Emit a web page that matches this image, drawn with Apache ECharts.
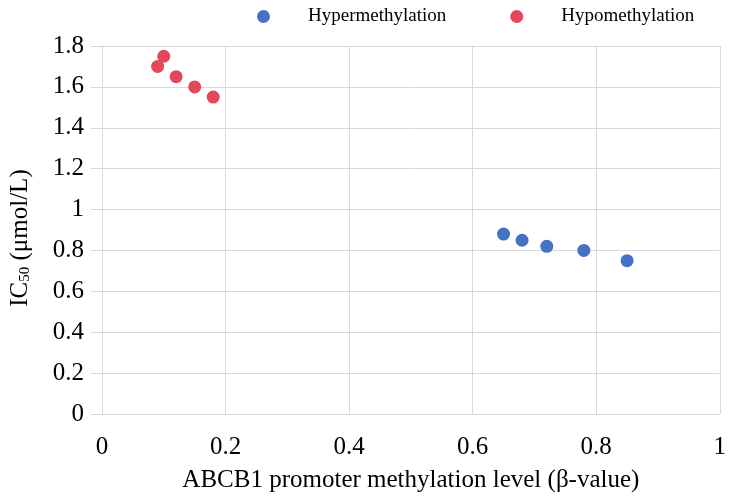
<!DOCTYPE html>
<html>
<head>
<meta charset="utf-8">
<script src="https://cdn.jsdelivr.net/npm/echarts@6/dist/echarts.min.js"></script>
<style>html,body{margin:0;padding:0;background:#fff;}#c{width:729px;height:503px;}</style>
</head>
<body>
<div id="c"></div>
<script>
const seriesNames = ['Hypermethylation', 'Hypomethylation'];
const hyperX = [0.65, 0.68, 0.72, 0.78, 0.85];
const hyperY = [0.88, 0.85, 0.82, 0.80, 0.75];
const hypoX = [0.09, 0.10, 0.12, 0.15, 0.18];
const hypoY = [1.70, 1.75, 1.65, 1.60, 1.55];
const xAxisTitle = 'ABCB1 promoter methylation level (β-value)';
const font = '"Liberation Serif", "Times New Roman", serif';

const zip = (xs, ys) => xs.map((x, i) => [x, ys[i]]);
const chart = echarts.init(document.getElementById('c'));
chart.setOption({
  animation: false,
  backgroundColor: '#ffffff',
  textStyle: { fontFamily: font },
  legend: {
    data: seriesNames,
    left: 252, top: 2,
    itemWidth: 13, itemHeight: 13, itemGap: 64,
    icon: 'circle',
    textStyle: { fontFamily: font, fontSize: 19, color: '#000', padding: [0, 0, 0, 33] }
  },
  grid: { left: 101, right: 8, top: 46, bottom: 89, containLabel: false },
  xAxis: {
    type: 'value', min: 0, max: 1, interval: 0.2,
    name: xAxisTitle, nameLocation: 'middle', nameGap: 54,
    nameTextStyle: { fontFamily: font, fontSize: 25, color: '#000' },
    axisLine: { show: true, lineStyle: { color: '#d9d9d9', width: 1 } },
    axisTick: { show: false },
    axisLabel: { fontFamily: font, fontSize: 25, color: '#000', margin: 21 },
    splitLine: { show: true, lineStyle: { color: '#d9d9d9', width: 1 } }
  },
  yAxis: {
    type: 'value', min: 0, max: 1.8, interval: 0.2,
    name: '{a|IC}{b|50}{a| (μmol/L)}', nameLocation: 'middle', nameGap: 69, nameRotate: 90,
    nameTextStyle: {
      fontFamily: font, fontSize: 25, color: '#000', padding: [0, 16, 0, 0],
      rich: {
        a: { fontFamily: font, fontSize: 25, color: '#000' },
        b: { fontFamily: font, fontSize: 15, color: '#000', padding: [9, 0, 0, 0] }
      }
    },
    axisLine: { show: true, lineStyle: { color: '#d9d9d9', width: 1 } },
    axisTick: { show: true, length: 11, lineStyle: { color: '#d9d9d9', width: 1 } },
    axisLabel: { fontFamily: font, fontSize: 25, color: '#000', margin: 18 },
    splitLine: { show: true, lineStyle: { color: '#d9d9d9', width: 1 } }
  },
  series: [
    { name: seriesNames[0], type: 'scatter', symbolSize: 13, data: zip(hyperX, hyperY), itemStyle: { color: '#4472c4', opacity: 1 } },
    { name: seriesNames[1], type: 'scatter', symbolSize: 13, data: zip(hypoX, hypoY), itemStyle: { color: '#e2475a', opacity: 1 } }
  ]
});
</script>
</body>
</html>
